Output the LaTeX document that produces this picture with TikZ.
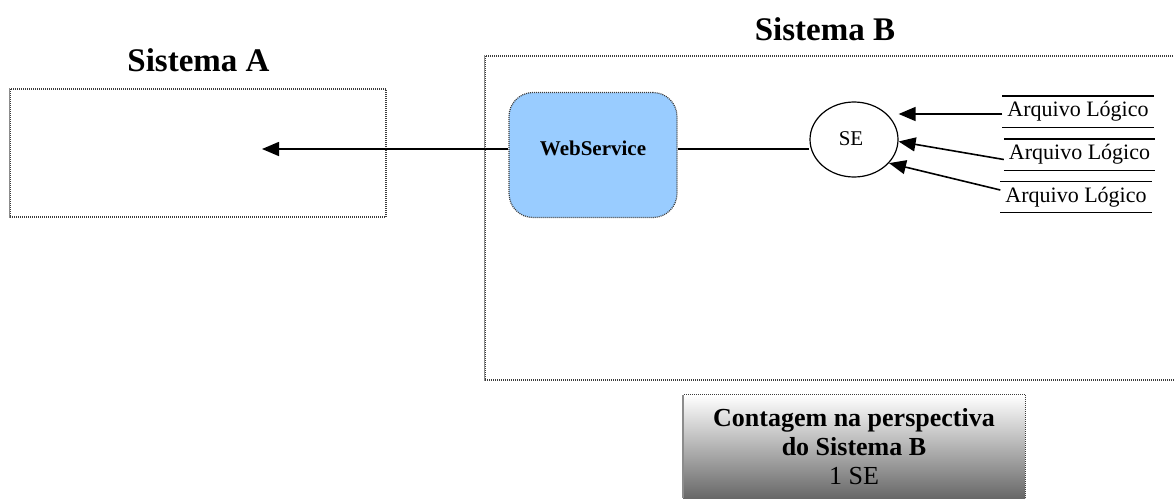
\documentclass[tikz,border=0pt]{standalone}
\usepackage{fontspec}
\setmainfont{Liberation Serif}
\usetikzlibrary{arrows.meta,shapes.geometric}
\definecolor{wsblue}{RGB}{153,204,255}
\definecolor{bordergray}{RGB}{60,60,60}
\definecolor{edgegray}{RGB}{140,140,140}
\definecolor{shadebot}{RGB}{104,104,104}
\begin{document}
\begin{tikzpicture}[x=1pt,y=-1pt,
 dotline/.style={draw=bordergray, line width=1.2pt, dash pattern=on 1pt off 1pt},
 solidedge/.style={draw=edgegray, line width=1.4pt},
 arr/.style={line width=1.6pt, -{Triangle[length=17pt,width=14pt]}},
 conn/.style={line width=1.6pt},
 title/.style={font=\fontsize{33}{40}\selectfont\bfseries, anchor=base, inner sep=0},
 lbl/.style={font=\fontsize{21}{25}\selectfont, inner sep=0},
 store/.style={minimum width=151pt, minimum height=31pt, inner sep=0, font=\fontsize{22}{26}\selectfont},
 storeline/.style={line width=1.4pt}
]
\useasboundingbox (0,0) rectangle (1174,498);

% Sistema A
\node[dotline, rectangle, minimum width=376pt, minimum height=128pt, inner sep=0] (sa) at (198,153) {};
\draw[solidedge] (sa.north west) -- (sa.south west);
\node[title] (tA) at (198.5,71) {Sistema A};

% Sistema B
\node[dotline, rectangle, minimum width=695pt, minimum height=324pt, inner sep=0] (sb) at (832.5,218) {};
\draw[solidedge] (sb.north west) -- (sb.south west);
\node[title] (tB) at (825,40) {Sistema B};

% WebService
\node[dotline, fill=wsblue, rounded corners=24pt, minimum width=168pt, minimum height=125pt, inner sep=0] (ws) at (593,155) {};
\node[font=\fontsize{21}{25}\selectfont\bfseries, anchor=base, inner sep=0] (wst) at (593,155) {WebService};

% SE
\node[ellipse, draw, line width=1.2pt, minimum width=88pt, minimum height=75pt, inner sep=0] (se) at (854,139.5) {};
\node[lbl, anchor=base] (set) at (851,145) {SE};

% Arquivos
\node[store] (f1) at (1078,111.5) {Arquivo Lógico};
\node[store] (f2) at (1079.5,154.5) {Arquivo Lógico};
\node[store] (f3) at (1076,197) {Arquivo Lógico};
\foreach \f in {f1,f2,f3}{
  \draw[storeline] (\f.north west) -- (\f.north east) (\f.south west) -- (\f.south east);
}

% connectors
\coordinate (aTip) at (262,149);
\draw[arr] ([yshift=6pt]ws.west) -- (aTip);
\draw[conn] ([yshift=6pt]ws.east) -- ([yshift=6pt]ws.east -| se.west);
\draw[arr] ([yshift=-2.5pt]f1.west) -- ([yshift=-2.5pt]f1.west -| se.east);
\draw[arr] ([yshift=-5pt]f2.west) -- ([yshift=-2pt]se.east);
\draw[arr] ([yshift=7pt]f3.west) -- (se.-34);

% Contagem
\node[shade, top color=white, bottom color=shadebot, minimum width=342pt, minimum height=103pt, inner sep=0] (cnt) at (854,446.5) {};
\draw[dotline] (cnt.south east) -- (cnt.north east) -- (cnt.north west);
\draw[solidedge] (cnt.north west) -- (cnt.south west);
\node[font=\fontsize{26}{29}\selectfont, align=center, inner sep=0] (cntt) at (854,447) {\textbf{Contagem na perspectiva}\\\textbf{do Sistema B}\\1 SE};
\end{tikzpicture}
\end{document}
